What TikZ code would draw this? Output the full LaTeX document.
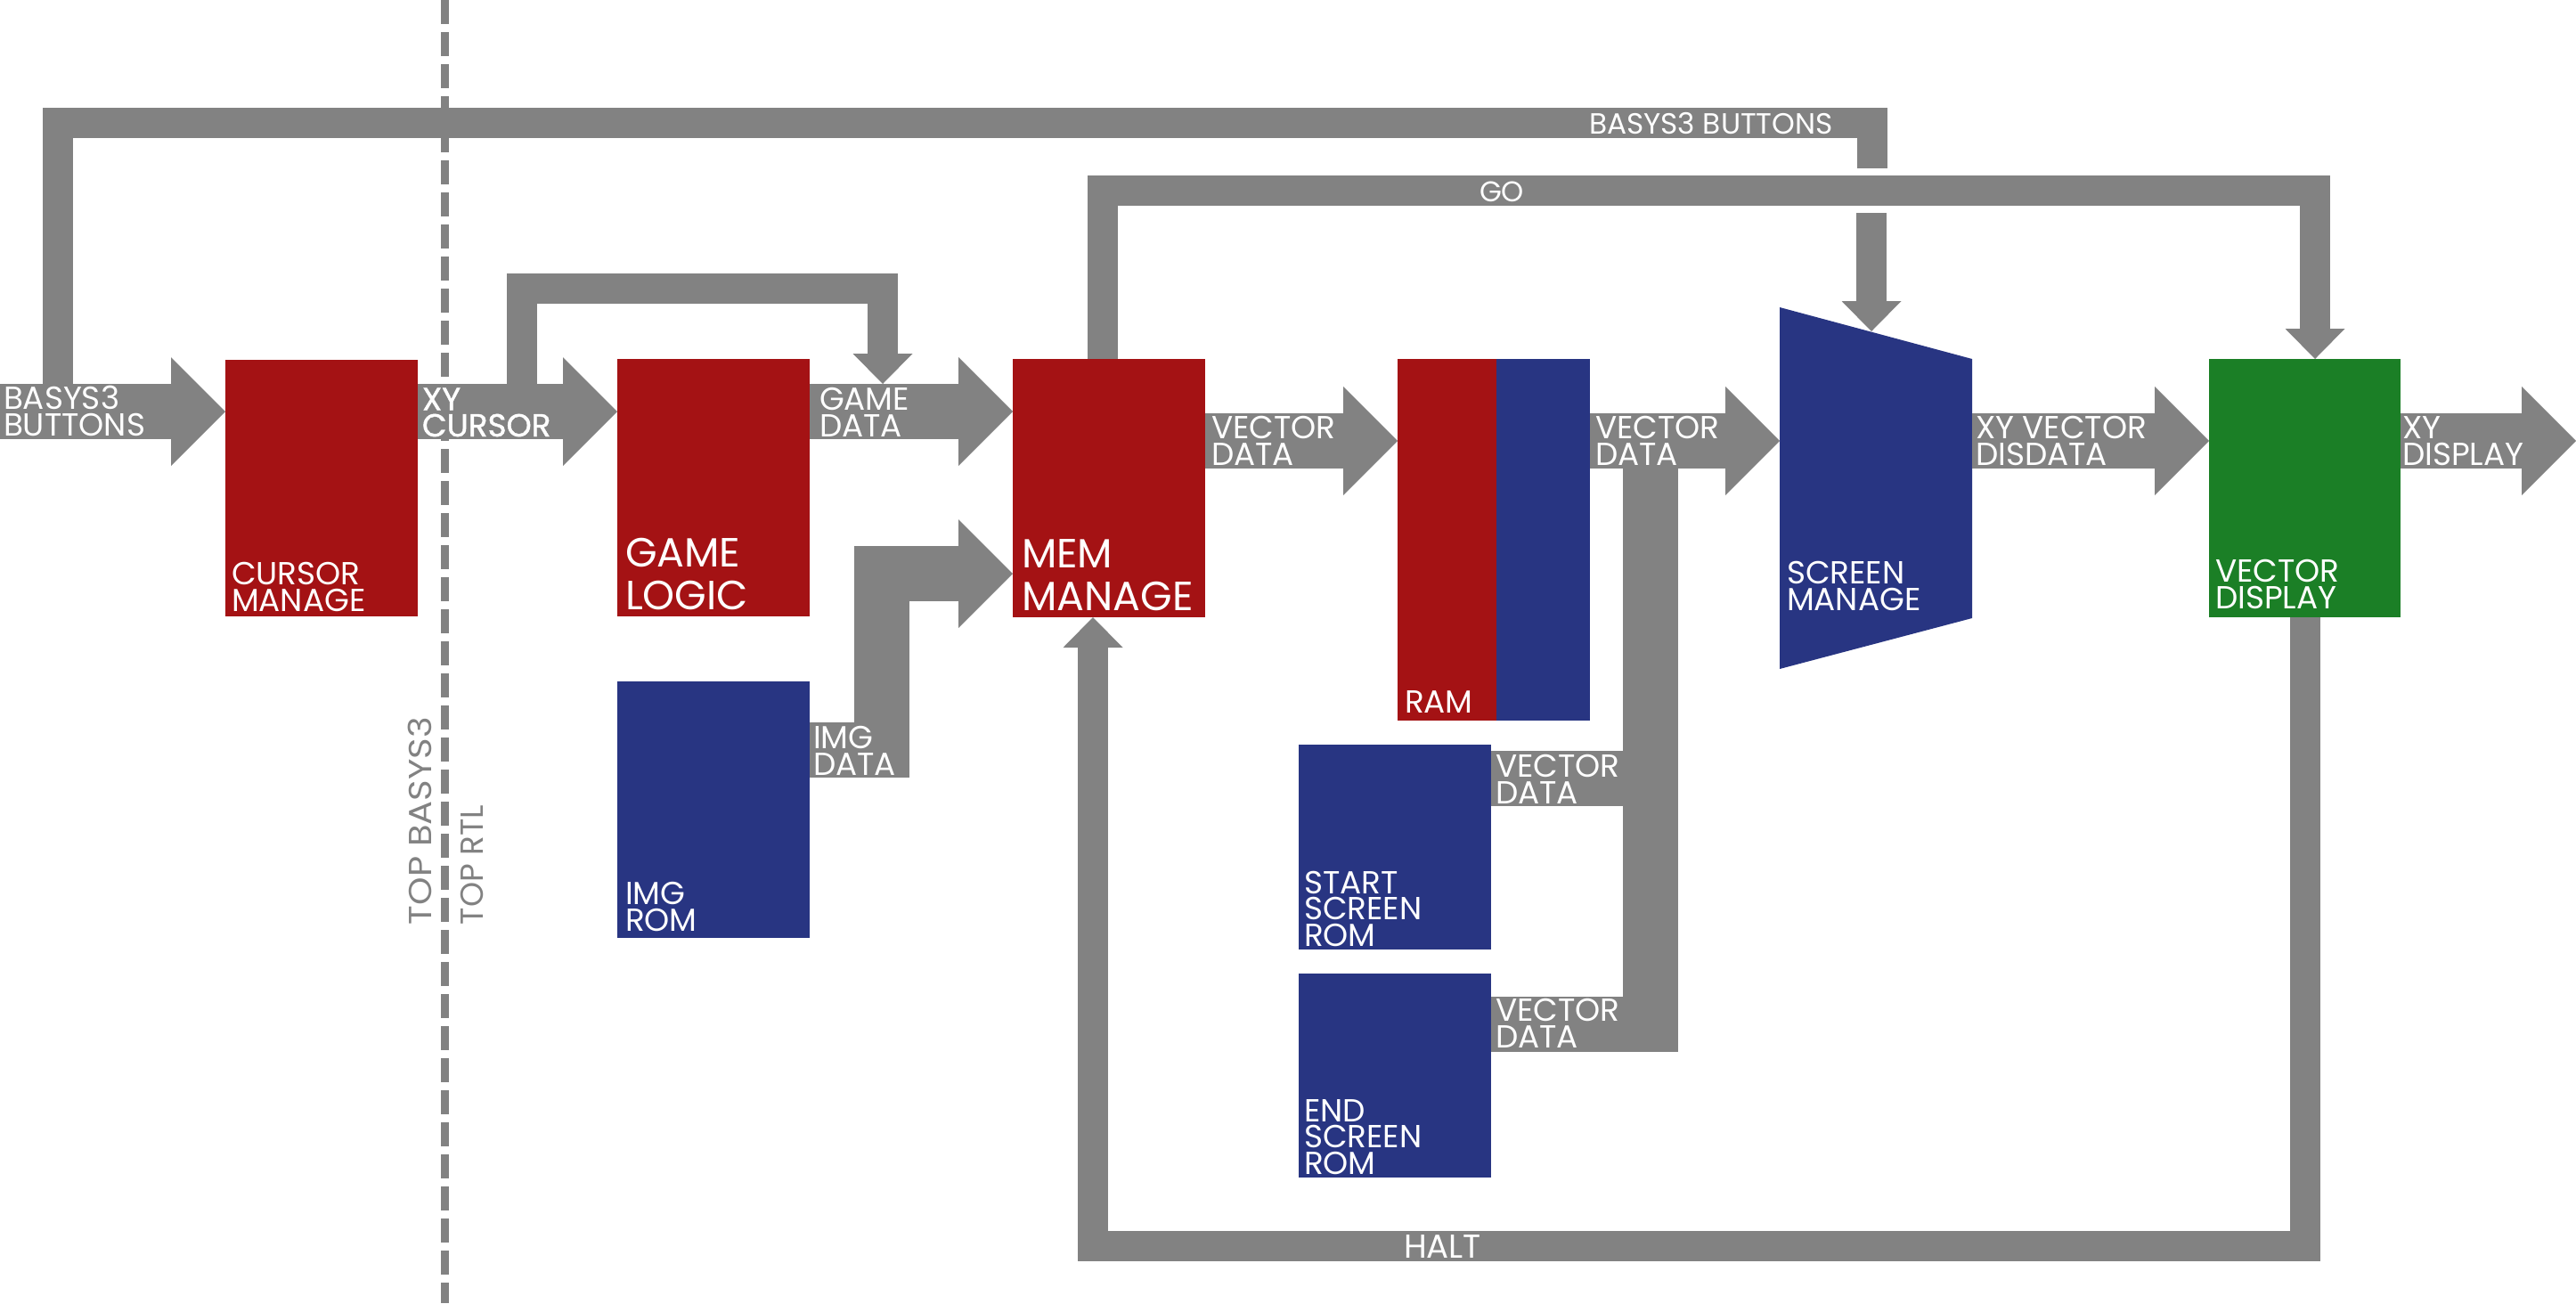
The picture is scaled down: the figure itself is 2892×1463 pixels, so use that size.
\documentclass[tikz,border=0pt]{standalone}
\usepackage{fontspec}
\setmainfont{Poppins}
\newfontfamily\heavyfont{Poppins}[FakeBold=1.2]
\usetikzlibrary{arrows.meta,calc}
\definecolor{bred}{HTML}{A41214}
\definecolor{bblue}{HTML}{283582}
\definecolor{bgreen}{HTML}{1B7F26}
\definecolor{bgray}{HTML}{828282}
\begin{document}
\begin{tikzpicture}[x=0.5pt,y=-0.5pt,
 blk/.style={rectangle, inner sep=0pt, outer sep=0pt},
 lbl/.style={inner sep=0pt, outer sep=0pt, anchor=base west, align=left, text=white, font=\fontsize{17.9}{14.75}\selectfont},
 biglbl/.style={lbl, font=\fontsize{22.9}{24}\selectfont},
 fat/.style={draw=bgray, line width=31pt, line join=miter, -{Triangle[length=30.5pt,width=61pt,line width=0pt]}},
 fatline/.style={draw=bgray, line width=31pt, line join=miter},
 bus/.style={draw=bgray, line width=17pt, line join=miter},
 busarrow/.style={bus, -{Triangle[length=17pt,width=33.5pt,line width=0pt]}},
]
\useasboundingbox (0,0) rectangle (2892,1463);

% helper coordinates
\coordinate (r1) at (0,462);
\coordinate (r2) at (0,495);
\coordinate (out) at (2892,495);
\coordinate (d0) at (499.5,0);
\coordinate (d1) at (499.5,1463);

% dashed boundary
\draw[bgray, line width=4.5pt, dash pattern=on 13.5pt off 4.5pt] (d0) -- (d1);

% blocks
\node[blk, fill=bred, minimum width=108pt, minimum height=144pt] (cursor) at (361,548) {};
\node[blk, fill=bred, minimum width=108pt, minimum height=144.5pt] (game) at (801,547.5) {};
\node[blk, fill=bred, minimum width=108pt, minimum height=145pt] (mem) at (1245,548) {};
\node[blk, fill=bblue, minimum width=108pt, minimum height=144pt] (imgrom) at (801,909) {};
\node[blk, fill=bred, minimum width=55.5pt, minimum height=203pt] (ramr) at (1624.5,606) {};
\node[blk, fill=bblue, minimum width=52.5pt, minimum height=203pt] (ramb) at (1732.5,606) {};
\node[blk, fill=bblue, minimum width=108pt, minimum height=115pt] (startrom) at (1566,951) {};
\node[blk, fill=bblue, minimum width=108pt, minimum height=114.5pt] (endrom) at (1566,1207.5) {};
\node[blk, minimum width=108pt, minimum height=203pt] (screen) at (2106,548) {};
\fill[bblue] (screen.north west) -- ($(screen.north east)+(0,58)$) -- ($(screen.south east)+(0,-57)$) -- (screen.south west) -- cycle;
\node[blk, fill=bgreen, minimum width=107.5pt, minimum height=145pt] (disp) at (2587.5,548) {};

% main data path
\draw[fat] (r1) -- (r1 -| cursor.west);
\draw[fat] (r1 -| cursor.east) -- (r1 -| game.west);
\draw[fat] (r1 -| game.east) -- (r1 -| mem.west);
\draw[fat] (r2 -| mem.east) -- (r2 -| ramr.west);
\draw[fat] (r2 -| ramb.east) -- (r2 -| screen.west);
\draw[fat] (r2 -| screen.east) -- (r2 -| disp.west);
\draw[fat] (r2 -| disp.east) -- (out);

% ROM vector data bus
\coordinate (busx) at (1853,0);
\coordinate (sv) at (0,874);
\coordinate (ev) at (0,1149.5);
\draw[fatline] (sv -| startrom.east) -- (sv -| busx);
\draw[fatline] (ev -| endrom.east) -- (ev -| busx) -- (r2 -| busx);

% image data
\coordinate (iv) at (0,842);
\coordinate (ih) at (0,644);
\coordinate (ix) at (990,0);
\draw[fat] (iv -| imgrom.east) -- (iv -| ix) -- (ih -| ix) -- (ih -| mem.west);

% xy cursor loop to game data
\coordinate (xy0) at (586,462);
\coordinate (gd) at (991,431);
\coordinate (loopy) at (0,324);
\draw[busarrow] (xy0) -- (xy0 |- loopy) -- (gd |- loopy) -- (gd);

% basys3 buttons loop
\coordinate (b0) at (65,462);
\coordinate (b1) at (2102,189);
\coordinate (topy) at (0,138);
\draw[bus] (b0) -- (b0 |- topy) -- (b1 |- topy) -- (b1);
\coordinate (b2) at (2101,239);
\coordinate (b3) at (2101,372);
\draw[busarrow] (b2) -- (b3);

% go
\coordinate (goy) at (0,214);
\coordinate (g0) at (1238,403);
\coordinate (g1) at (2599,403);
\draw[busarrow] (g0) -- (g0 |- goy) -- (g1 |- goy) -- (g1);

% halt
\coordinate (hy) at (0,1399);
\coordinate (h0) at (2588,693);
\coordinate (h1) at (1227,693);
\draw[busarrow] (h0) -- (h0 |- hy) -- (h1 |- hy) -- (h1);

% arrow labels
\node[lbl] (t1) at (4,489) {BASYS3\\BUTTONS};
\node[lbl, font=\heavyfont\fontsize{17.9}{14.75}\selectfont] (t2) at (474,490) {XY\\CURSOR};
\node[lbl] (t3) at (920,490) {GAME\\DATA};
\node[lbl] (t4) at (1360,522) {VECTOR\\DATA};
\node[lbl] (t5) at (1791,522) {VECTOR\\DATA};
\node[lbl] (t6) at (2218,522) {XY VECTOR\\DISDATA};
\node[lbl] (t7) at (2697,522) {XY\\DISPLAY};
\node[lbl] (t8) at (913,870) {IMG\\DATA};
\node[lbl] (t9) at (1679,902) {VECTOR\\DATA};
\node[lbl] (t10) at (1679,1176) {VECTOR\\DATA};
\node[lbl, font=\fontsize{16.4}{15}\selectfont] (t11) at (1784,150) {BASYS3 BUTTONS};
\node[lbl, font=\fontsize{16}{15}\selectfont] (t12) at (1661,226) {GO};
\node[lbl, font=\fontsize{18.6}{15}\selectfont] (t13) at (1576,1412) {HALT};

% block labels
\node[lbl] (c1) at (260,686) {CURSOR\\MANAGE};
\node[biglbl] (c2) at (702,684) {GAME\\LOGIC};
\node[biglbl] (c3) at (1147,685) {MEM\\MANAGE};
\node[lbl] (c4) at (702,1045) {IMG\\ROM};
\node[lbl] (c5) at (1577,800) {RAM};
\node[lbl] (c6) at (1464,1062) {START\\SCREEN\\ROM};
\node[lbl] (c7) at (1464,1318) {END\\SCREEN\\ROM};
\node[lbl] (c8) at (2006,685) {SCREEN\\MANAGE};
\node[lbl] (c9) at (2487,683) {VECTOR\\DISPLAY};

% boundary labels
\node[lbl, text=bgray, rotate=90, xscale=1.12] (bt1) at (484,1038) {TOP BASYS3};
\node[lbl, text=bgray, rotate=90] (bt2) at (542,1038) {TOP RTL};
\end{tikzpicture}
\end{document}
